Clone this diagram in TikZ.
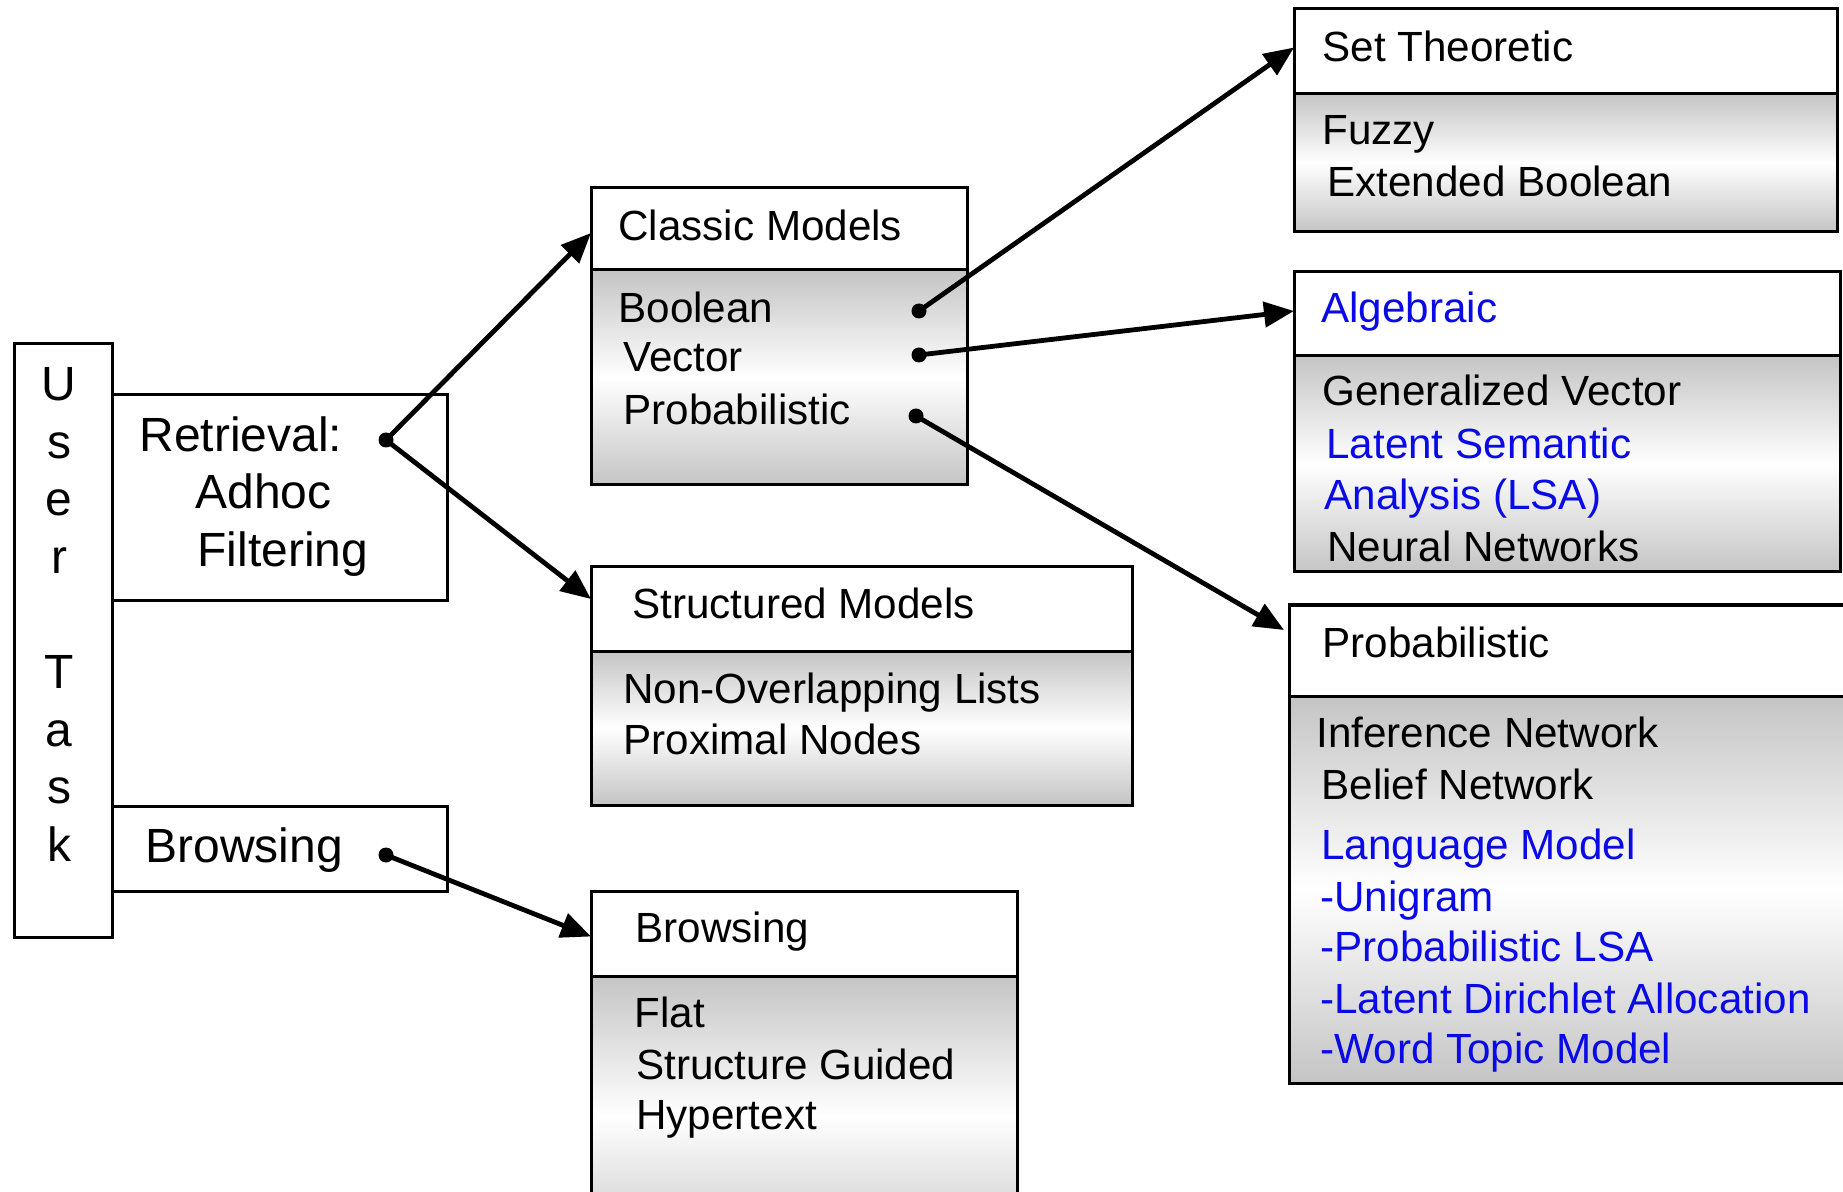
\documentclass[tikz,border=0pt]{standalone}
\usepackage{fontspec}
\setmainfont{Liberation Sans}
\usetikzlibrary{arrows.meta}
\definecolor{shadegray}{gray}{0.77}
\definecolor{txtblue}{RGB}{10,10,230}
\tikzset{
  x=0.5pt, y=-0.5pt,
  box/.style={draw=black, line width=1.5pt, fill=white, inner sep=0pt, outer sep=0pt, anchor=north west, rectangle},
  body/.style={box, top color=shadegray, bottom color=shadegray, middle color=white},
  txt/.style={anchor=base west, inner sep=0pt, font=\fontsize{21.1}{25}\selectfont},
  bigtxt/.style={anchor=base west, inner sep=0pt, font=\fontsize{24}{28}\selectfont},
  btxt/.style={txt, text=txtblue},
  conn/.style={line width=2.4pt, -{Triangle[length=15pt,width=12.5pt]}},
  dot/.style={circle, fill=black, inner sep=0pt, minimum size=7.5pt},
}
\begin{document}
\begin{tikzpicture}
\useasboundingbox (0,0) rectangle (1843,1192);
\clip (0,0) rectangle (1843,1192);

% left side
\node[box, minimum width=49pt, minimum height=296.5pt] (ut) at (14,344) {};
\node[box, minimum width=167.5pt, minimum height=103pt] (ret) at (112,395) {};
\node[box, minimum width=167.5pt, minimum height=42.5pt] (brl) at (112,806) {};
\foreach \i/\l in {0/U,1/s,2/e,3/r,5/T,6/a,7/s,8/k}
  \node[bigtxt, anchor=base] (ut\i) at (59,{401+57.5*\i}) {\l};
\node[bigtxt] (rt1) at (139,452) {Retrieval:};
\node[bigtxt] (rt2) at (195,509) {Adhoc};
\node[bigtxt] (rt3) at (197,567) {Filtering};
\node[bigtxt] (blt) at (145,862) {Browsing};

% classic models
\node[box, minimum width=188pt, minimum height=41pt] (cmH) at (591,188) {};
\node[body, minimum width=188pt, minimum height=107.5pt] (cmB) at (591,270) {};
\node[txt] (cm0) at (618,241) {Classic Models};
\node[txt] (cm1) at (618,323) {Boolean};
\node[txt] (cm2) at (623,372) {Vector};
\node[txt] (cm3) at (623,425) {Probabilistic};

% structured models
\node[box, minimum width=270.5pt, minimum height=42pt] (smH) at (591,567) {};
\node[body, minimum width=270.5pt, minimum height=77pt] (smB) at (591,651) {};
\node[txt] (sm0) at (632,618) {Structured Models};
\node[txt] (sm1) at (623,703) {Non-Overlapping Lists};
\node[txt] (sm2) at (623,754) {Proximal Nodes};

% browsing right
\node[box, minimum width=213pt, minimum height=42.5pt] (brH) at (591,891) {};
\node[body, minimum width=213pt, minimum height=140pt] (brB) at (591,976) {};
\node[txt] (br0) at (635,942) {Browsing};
\node[txt] (br1) at (634,1027) {Flat};
\node[txt] (br2) at (636,1079) {Structure Guided};
\node[txt] (br3) at (636,1129) {Hypertext};

% set theoretic
\node[box, minimum width=271.5pt, minimum height=42.5pt] (stH) at (1294,9) {};
\node[body, minimum width=271.5pt, minimum height=69pt] (stB) at (1294,94) {};
\node[txt] (st0) at (1322,62) {Set Theoretic};
\node[txt] (st1) at (1322,145) {Fuzzy};
\node[txt] (st2) at (1327,197) {Extended Boolean};

% algebraic
\node[box, minimum width=273pt, minimum height=42pt] (alH) at (1294,272) {};
\node[body, minimum width=273pt, minimum height=108pt] (alB) at (1294,356) {};
\node[btxt] (al0) at (1321,323) {Algebraic};
\node[txt] (al1) at (1322,406) {Generalized Vector};
\node[btxt] (al2) at (1326,459) {Latent Semantic};
\node[btxt] (al3) at (1324,510) {Analysis (LSA)};
\node[txt] (al4) at (1327,562) {Neural Networks};

% probabilistic
\node[box, minimum width=290.5pt, minimum height=45.5pt] (prH) at (1289,605) {};
\node[body, minimum width=290.5pt, minimum height=193.5pt] (prB) at (1289,696) {};
\node[txt] (pr0) at (1322,657) {Probabilistic};
\node[txt] (pr1) at (1316,747) {Inference Network};
\node[txt] (pr2) at (1321,799) {Belief Network};
\node[btxt] (pr3) at (1321,859) {Language Model};
\node[btxt] (pr4) at (1320,911) {-Unigram};
\node[btxt] (pr5) at (1320,961) {-Probabilistic LSA};
\node[btxt] (pr6) at (1320,1013) {-Latent Dirichlet Allocation};
\node[btxt] (pr7) at (1320,1063) {-Word Topic Model};

% dots
\node[dot] (dRet) at (386,440) {};
\node[dot] (dBr) at (386,855) {};
\node[dot] (dBool) at (919,311) {};
\node[dot] (dVec) at (919,355) {};
\node[dot] (dProb) at (916,416) {};

% connectors
\draw[conn] (dRet.center) -- ([yshift=-2pt]cmH.west);
\draw[conn] (dRet.center) -- ([yshift=5pt]smH.west);
\draw[conn] (dBr.center) -- ([yshift=-1.5pt]brH.west);
\draw[conn] (dBool.center) -- ([yshift=2pt]stH.west);
\draw[conn] (dVec.center) -- ([yshift=1.5pt]alH.west);
\draw[conn] (dProb.center) -- ([xshift=-2.5pt,yshift=-12.5pt]prH.north west);
\end{tikzpicture}
\end{document}
